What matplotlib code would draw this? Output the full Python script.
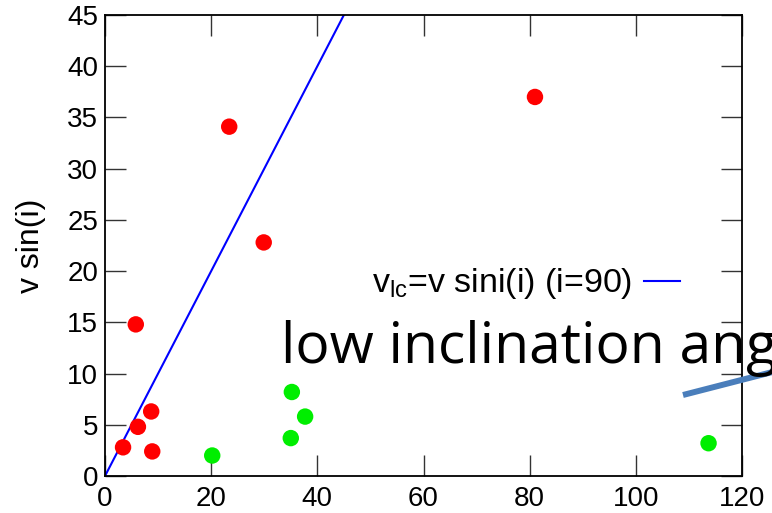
import numpy as np
import matplotlib
matplotlib.use("Agg")
import matplotlib.pyplot as plt
from matplotlib.lines import Line2D

plt.rcParams.update({
    "font.family": ["Liberation Sans", "DejaVu Sans"],
    "mathtext.fontset": "custom",
    "mathtext.rm": "Liberation Sans",
    "mathtext.it": "Liberation Sans:italic",
})

# ── data ──
red_x = [3.4, 6.2, 8.7, 8.9, 5.8, 23.4, 29.9, 81.0]
red_y = [2.8, 4.8, 6.3, 2.4, 14.8, 34.1, 22.8, 37.0]
green_x = [20.2, 35.2, 35.0, 37.7, 113.7]
green_y = [2.0, 8.2, 3.7, 5.8, 3.2]
line_x = [0, 45]          # v_lc = v sin(i), i = 90  ->  y = x
line_y = [0, 45]

fig = plt.figure(figsize=(7.72, 5.13), dpi=100)
ax = fig.add_axes([105 / 772, 37 / 513, 637 / 772, 461 / 513])

ax.plot(line_x, line_y, color="blue", linewidth=1.5,
        label=r"v$_{\mathrm{lc}}$=v sini(i) (i=90)")
ax.scatter(red_x, red_y, s=140, color="red", edgecolors="none", zorder=3)
ax.scatter(green_x, green_y, s=140, color="#00ee00", edgecolors="none", zorder=3)

ax.set_xlim(0, 120)
ax.set_ylim(0, 45)
ax.set_xticks(np.arange(0, 121, 20))
ax.set_yticks(np.arange(0, 46, 5))
ax.tick_params(direction="in", length=15, width=1, top=True, right=True,
               labelsize=20, color="#333333")
ax.tick_params(axis="x", pad=7)
ax.tick_params(axis="y", pad=5)
for s in ax.spines.values():
    s.set_linewidth(1.3)
ax.set_ylabel("v sin(i)", fontsize=23, labelpad=15)

ax.legend(loc="center right", bbox_to_anchor=(0.903, 0.4165), frameon=False,
          markerfirst=False, fontsize=24.5, handlelength=1.05, handletextpad=0.35,
          borderpad=0, borderaxespad=0)

# overlaid slide annotation
fig.text(281 / 772, 1 - 363 / 513, "low inclination angle", fontsize=41,
         family=["Open Sans", "DejaVu Sans"], color="black", va="baseline", ha="left")
fig.add_artist(Line2D([683 / 772, 1.05], [1 - 395 / 513, 0.294],
                      transform=fig.transFigure, color="#4a7ebb",
                      linewidth=4.3, solid_capstyle="butt"))

fig.savefig("out.png", dpi=100)
